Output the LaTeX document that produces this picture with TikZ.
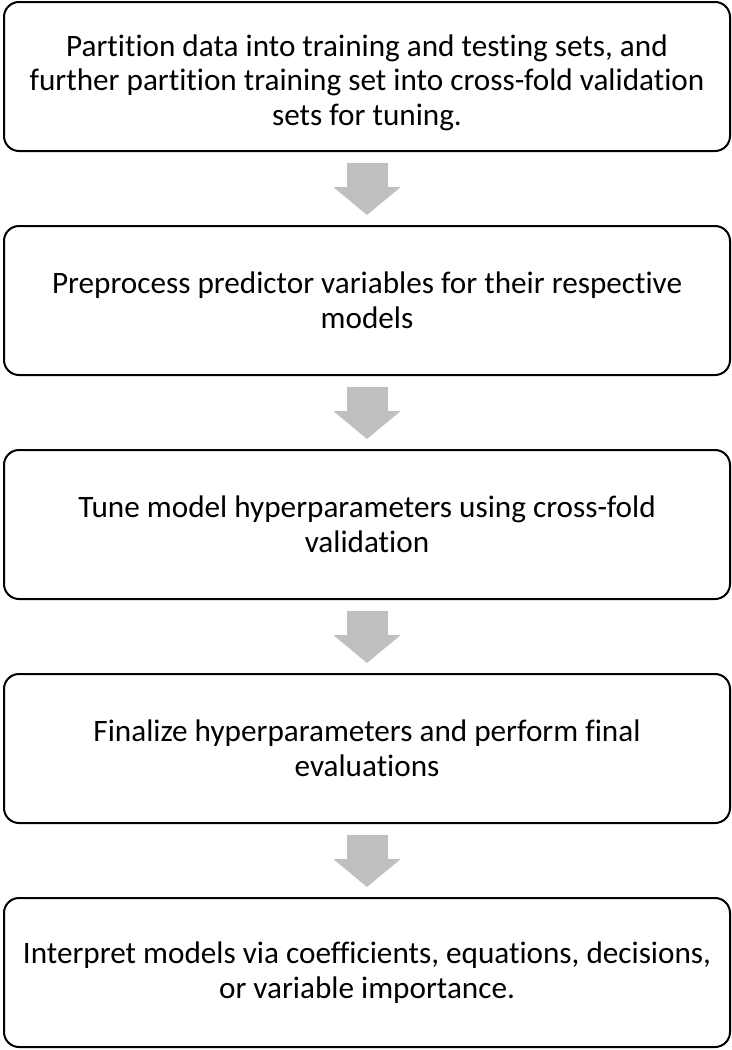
\documentclass[tikz,border=0pt]{standalone}
\usepackage{fontspec}
\setmainfont[Ligatures={NoCommon}]{Carlito}
\usepackage{xcolor}
\usepackage{tikz}
\usetikzlibrary{
arrows.meta,
positioning
}

\definecolor{arrowgray}{HTML}{BFBFBF}

\begin{document}
\begin{tikzpicture}[
node distance=36.5pt,
box/.style={
draw,
line width=1pt,
rounded corners=7.5pt,
fill=white,
minimum width=363pt,
minimum height=74.5pt,
align=center,
font=\fontsize{15.6pt}{17.4pt}\selectfont
},
arrow/.style={
draw=arrowgray,
line width=20.5pt,
-{Triangle[width=33pt,length=14pt]},
shorten <=5.5pt,
shorten >=5pt
}
]

\useasboundingbox (0,0) rectangle (366pt,-525pt);

% first box: the strut pushes its text a little lower
\node[box,below right=0.5pt and 1.5pt of {(0,0)},anchor=north west] (split) {
\rule{0pt}{17pt}Partition data into training and testing sets, and\\
further partition training set into cross-fold validation\\
sets for tuning.
};

\node[box,below=of split] (prep) {
Preprocess predictor variables for their respective\\
models
};

\node[box,below=of prep] (tune) {
Tune model hyperparameters using cross-fold\\
validation
};

\node[box,below=of tune] (final) {
Finalize hyperparameters and perform final\\
evaluations
};

\node[box,below=of final] (interp) {
Interpret models via coefficients, equations, decisions,\\
or variable importance.
};

\draw[arrow] (split) -- (prep);
\draw[arrow] (prep) -- (tune);
\draw[arrow] (tune) -- (final);
\draw[arrow] (final) -- (interp);

\end{tikzpicture}
\end{document}
